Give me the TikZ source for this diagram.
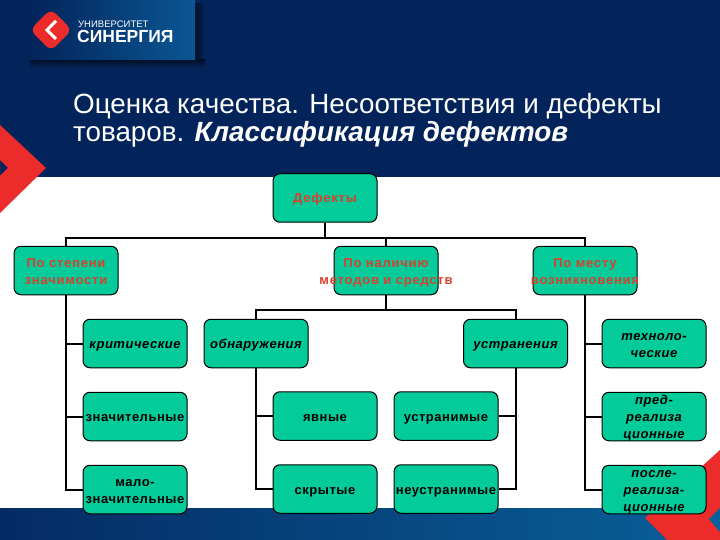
\documentclass[tikz,border=0pt]{standalone}
\usepackage{fontspec}
\setmainfont{Liberation Sans}
\usepackage{xcolor}
\usetikzlibrary{positioning}

\definecolor{navy}{HTML}{03245A}
\definecolor{slideblue}{HTML}{0A4488}
\definecolor{accent}{HTML}{EC2B2B}
\definecolor{boxgreen}{HTML}{03CB9A}
\definecolor{labelred}{HTML}{D8412C}

\newcommand{\boxline}[1]{\raisebox{0pt}[10pt][-1pt]{\clap{#1}}}
\newcommand{\twolines}[2]{\boxline{#1}\\\boxline{#2}}
\newcommand{\threelines}[3]{\boxline{#1}\\\boxline{#2}\\\boxline{#3}}

\begin{document}
\begin{tikzpicture}[
  x=1pt, y=-1pt,
  node distance=73pt,
  every node/.style={on grid},
  basebox/.style={rectangle, rounded corners=7pt, draw=black, line width=1pt, fill=boxgreen,
    minimum width=104pt, minimum height=48.5pt, inner sep=0pt, align=center},
  headbox/.style={basebox, text=labelred, font=\fontsize{13}{17}\selectfont\bfseries\addfontfeature{LetterSpace=6}},
  kindbox/.style={basebox, text=black, font=\fontsize{13}{17}\selectfont\bfseries\addfontfeature{LetterSpace=4}},
  itembox/.style={basebox, text=black, font=\fontsize{13}{17}\selectfont\bfseries\itshape\addfontfeature{LetterSpace=4}},
  link/.style={line width=2pt, draw=black},
  titletext/.style={text=white, anchor=base west, inner sep=0pt, font=\fontsize{27.8}{28}\selectfont}
]
\useasboundingbox (0,0) rectangle (720,540);

% slide background
\fill[navy] (0,0) rectangle (720,177);
\fill[white] (0,177) rectangle (720,508);
\shade[left color=navy!80!slideblue, right color=slideblue!85!cyan] (0,508) rectangle (720,540);

% logo panel
\shade[left color=black!55!navy, right color=navy] (195,4) rectangle (205,60);
\shade[top color=black!55!navy, bottom color=navy] (30,60) rectangle (205,68);
\shade[left color=navy, right color=slideblue!90!cyan] (30,0) rectangle (195,60);
\fill[accent, rounded corners=7pt] (51,9) -- (72,30) -- (51,51) -- (30,30) -- cycle;
\draw[white, line width=3pt] (56,21) -- (47,30) -- (56,39);
\node[text=white, anchor=base west, inner sep=0pt, font=\fontsize{9.5}{10}\selectfont] (univ) at (78,28) {УНИВЕРСИТЕТ};
\node[text=white, anchor=base west, inner sep=0pt, font=\fontsize{17.5}{18}\selectfont\bfseries] (brand) at (77,43) {СИНЕРГИЯ};

% red corners
\fill[accent, even odd rule] (0,125) -- (46,168) -- (0,213) -- cycle (0,160) -- (8,168) -- (0,176) -- cycle;
\fill[accent, even odd rule] (720,450) -- (645,518) -- (667,540) -- (720,540) -- cycle
  (720,508) -- (709,519) -- (720,532) -- cycle;
\fill[slideblue!85!cyan] (720,508) -- (709,519) -- (720,532) -- cycle;

% title
\node[titletext] (title1) at (73,114) {Оценка качества. Несоответствия и дефекты};
\node[titletext] (title2) at (73,142) {товаров. \textbf{\textit{Классификация дефектов}}};

% boxes
\node[headbox] (defects) at (325,198) {\boxline{Дефекты}};
\node[headbox, below left=72.5pt and 259pt of defects] (degree) {\twolines{По степени}{значимости}};
\node[headbox, below right=72.5pt and 61pt of defects] (presence) {\twolines{По наличию}{методов и средств}};
\node[headbox, right=199pt of presence] (place) {\twolines{По месту}{возникновения}};

\node[itembox, below right=73pt and 69pt of degree] (critical) {\boxline{критические}};
\node[kindbox, below of=critical] (significant) {\boxline{значительные}};
\node[kindbox, below of=significant] (minor) {\twolines{мало-}{значительные}};

\node[itembox, right=121pt of critical] (detection) {\boxline{обнаружения}};
\node[itembox, right=259.5pt of detection] (removal) {\boxline{устранения}};
\node[kindbox, below right=72.5pt and 69pt of detection] (explicit) {\boxline{явные}};
\node[kindbox, below of=explicit] (hidden) {\boxline{скрытые}};
\node[kindbox, right=121pt of explicit] (removable) {\boxline{устранимые}};
\node[kindbox, below of=removable] (fixedno) {\boxline{неустранимые}};

\node[itembox, right=138.5pt of removal] (tech) {\twolines{техноло-}{ческие}};
\node[itembox, below of=tech] (presale) {\threelines{пред-}{реализа}{ционные}};
\node[itembox, below of=presale] (postsale) {\threelines{после-}{реализа-}{ционные}};

% connectors
\coordinate[below=15pt of defects.south] (topbus);
\coordinate[below=15pt of presence.south] (midbus);
\draw[link] (degree.north) |- (topbus) -| (place.north);
\draw[link] (defects.south) -- (topbus);
\draw[link] (topbus -| presence.north) -- (presence.north);
\draw[link] (detection.north) |- (midbus) -| (removal.north);
\draw[link] (presence.south) -- (midbus);
\foreach \kid in {critical, significant, minor}
  \draw[link] (degree.south) |- (\kid.west);
\foreach \kid in {explicit, hidden}
  \draw[link] (detection.south) |- (\kid.west);
\foreach \kid in {removable, fixedno}
  \draw[link] (removal.south) |- (\kid.east);
\foreach \kid in {tech, presale, postsale}
  \draw[link] (place.south) |- (\kid.west);
\end{tikzpicture}
\end{document}
